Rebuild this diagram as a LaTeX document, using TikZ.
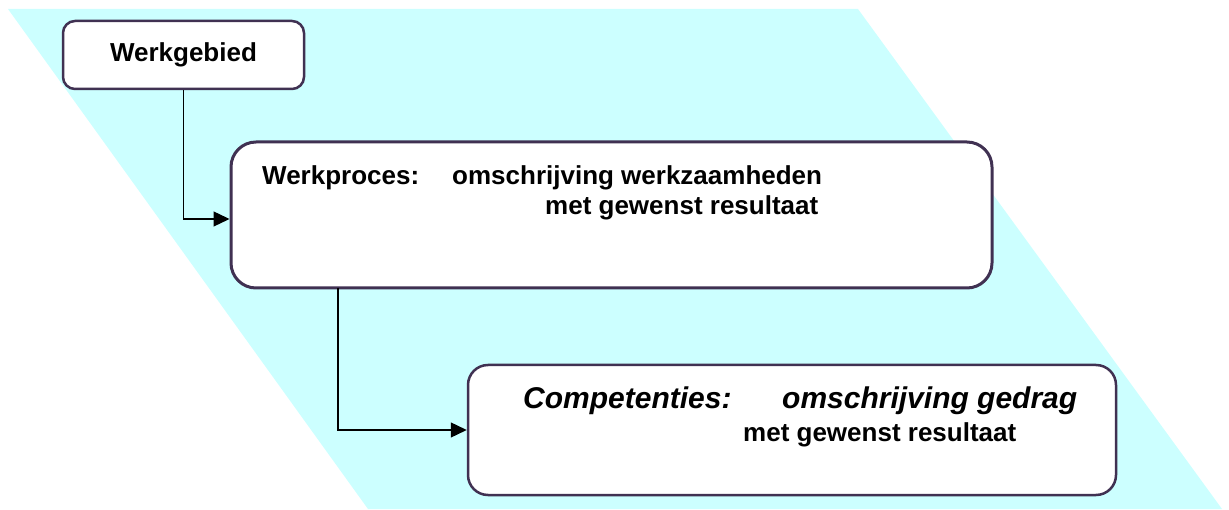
\documentclass[tikz,border=0pt]{standalone}
\usepackage{fontspec}
\setmainfont{Liberation Sans}
\usetikzlibrary{arrows.meta}
\definecolor{lichtblauw}{RGB}{204,255,255}
\definecolor{randpaars}{RGB}{64,49,82}

\begin{document}
\begin{tikzpicture}[x = 1pt, y = 1pt,
  kader/.style = {draw = randpaars, fill = white, line width = 2.5pt, inner sep = 0pt},
  pijl/.style = {line width = 1.3pt, -{Triangle[length = 16pt, width = 15pt]}},
  tekst/.style = {anchor = base west, inner sep = 0pt, font = \fontsize{26}{31}\selectfont\bfseries}]
%\draw [very thin, color = gray](0, 0) grid (1229, 509);
\useasboundingbox (0, 0) rectangle (1229, 509);
\fill [lichtblauw] (8, 500) -- (858, 500) -- (1222, 0) -- (368, 0) -- cycle;
\node [kader, rounded corners = 12pt, minimum width = 241pt, minimum height = 68pt, font = \fontsize{26}{31}\selectfont\bfseries] (gebied) at (183.5, 454) {Werkgebied};
\node [kader, line width = 3pt, rounded corners = 25pt, minimum width = 761pt, minimum height = 146pt] (proces) at (611.5, 294) {};
\node [kader, rounded corners = 20pt, minimum width = 648pt, minimum height = 130pt] (comp) at (792, 79) {};
\node [tekst] (proceskop) at (262, 324) {Werkproces:};
\node [tekst] (procesoms) at (452, 324) {omschrijving werkzaamheden};
\node [tekst] (procesres) at (545, 294) {met gewenst resultaat};
\node [tekst, font = \fontsize{30}{36}\selectfont\bfseries\itshape] (compkop) at (523, 100) {Competenties:};
\node [tekst, font = \fontsize{30}{36}\selectfont\bfseries\itshape] (compoms) at (782, 100) {omschrijving gedrag};
\node [tekst] (compres) at (743, 67) {met gewenst resultaat};
\coordinate (afsplitsing) at (338, 221);
\draw [pijl] (gebied.south) |- ([yshift = -4pt]proces.west);
\draw [pijl] (afsplitsing) |- (comp.west);
\end{tikzpicture}
\end{document}
